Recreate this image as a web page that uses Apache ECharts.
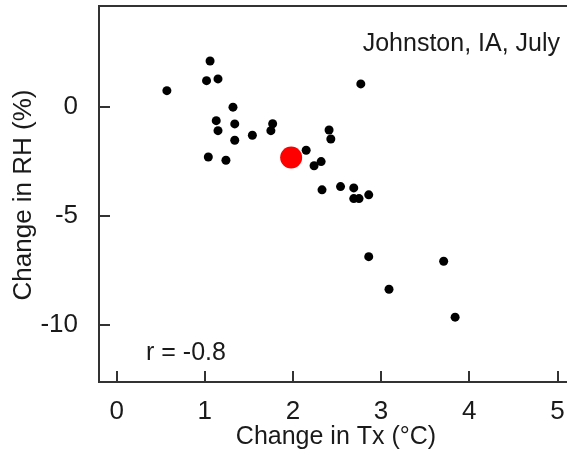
<!DOCTYPE html>
<html>
<head>
<meta charset="utf-8">
<script src="https://cdn.jsdelivr.net/npm/echarts@6/dist/echarts.min.js"></script>
<style>html,body{margin:0;padding:0;background:#fff}#c{width:567px;height:453px}</style>
</head>
<body>
<div id="c"></div>
<script>
// Change in Tx (°C) for each model
const txChange = [0.57, 1.06, 1.02, 1.15, 1.32, 1.13, 1.34, 1.15, 1.34, 1.54, 1.77, 1.75, 1.04, 1.24,
  2.77, 2.41, 2.43, 2.15, 2.32, 2.24, 2.33, 2.54, 2.69, 2.69, 2.75, 2.86,
  2.86, 3.71, 3.09, 3.84];
// Change in RH (%) for each model
const rhChange = [0.75, 2.11, 1.21, 1.29, -0.01, -0.63, -0.78, -1.09, -1.53, -1.30, -0.77, -1.09, -2.30, -2.45,
  1.06, -1.06, -1.47, -1.99, -2.51, -2.70, -3.81, -3.66, -3.72, -4.21, -4.21, -4.04,
  -6.88, -7.09, -8.38, -9.66];
// ensemble mean
const meanPoint = [1.98, -2.32];
const xTicks = [0, 1, 2, 3, 4, 5];
const yTicks = [-10, -5, 0];
const xTitle = 'Change in Tx (°C)';
const yTitle = 'Change in RH (%)';
const placeLabel = 'Johnston, IA, July';
const rLabel = 'r = -0.8';

const FONT = 'Liberation Sans, Arial, sans-serif';
const TXT = '#1a1a1a';
const chart = echarts.init(document.getElementById('c'), null, {renderer: 'canvas'});
const pts = txChange.map((x, i) => [x, rhChange[i]]);
chart.setOption({
  animation: false,
  grid: {show: true, borderColor: '#333', borderWidth: 2, backgroundColor: 'transparent',
    left: 99, top: 6, width: 476, height: 376, outerBoundsMode: 'none', containLabel: false},
  xAxis: {
    type: 'value', min: -0.2, max: 5.2,
    splitLine: {show: false},
    axisLine: {show: true, onZero: false, lineStyle: {color: '#333', width: 2}},
    axisTick: {show: true, inside: true, length: 11, customValues: xTicks, lineStyle: {color: '#333', width: 2}},
    axisLabel: {customValues: xTicks, margin: 17, fontSize: 26, color: TXT, fontFamily: FONT}
  },
  yAxis: {
    type: 'value', min: -12.64, max: 4.64,
    splitLine: {show: false},
    axisLine: {show: true, onZero: false, lineStyle: {color: '#333', width: 2}},
    axisTick: {show: true, inside: true, length: 11, customValues: yTicks, lineStyle: {color: '#333', width: 2}},
    axisLabel: {customValues: yTicks, margin: 21, fontSize: 26, color: TXT, fontFamily: FONT}
  },
  series: [
    {type: 'scatter', data: pts, symbol: 'circle', symbolSize: 9, itemStyle: {color: '#000', opacity: 1}},
    {type: 'scatter', data: [meanPoint], symbol: 'circle', symbolSize: 22, itemStyle: {color: '#ff0000', opacity: 1}}
  ],
  graphic: [
    {type: 'text', x: 336, y: 437,
      style: {text: xTitle, fontSize: 25, fill: TXT, fontFamily: FONT, align: 'center', verticalAlign: 'middle'}},
    {type: 'text', x: 24, y: 195, rotation: Math.PI / 2,
      style: {text: yTitle, fontSize: 26, fill: TXT, fontFamily: FONT, align: 'center', verticalAlign: 'middle'}},
    {type: 'text', x: 560, y: 44,
      style: {text: placeLabel, fontSize: 25, fill: TXT, fontFamily: FONT, align: 'right', verticalAlign: 'middle'}},
    {type: 'text', x: 146, y: 353,
      style: {text: rLabel, fontSize: 25, fill: TXT, fontFamily: FONT, align: 'left', verticalAlign: 'middle'}}
  ]
});
</script>
</body>
</html>
